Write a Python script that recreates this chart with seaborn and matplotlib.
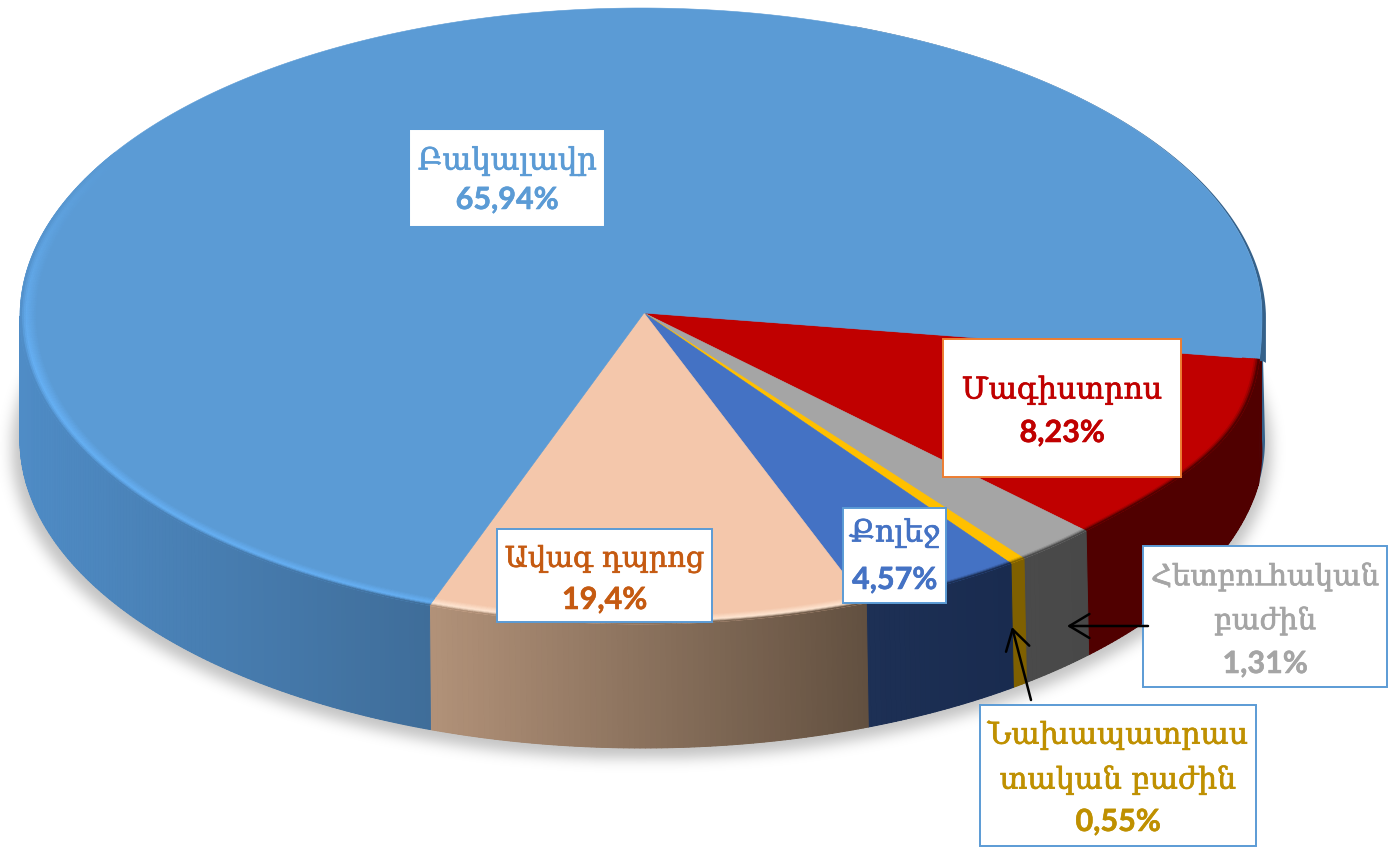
import numpy as np
import matplotlib
matplotlib.use("Agg")
import matplotlib.pyplot as plt
import matplotlib.patheffects as pe
from matplotlib.collections import PolyCollection
from matplotlib.colors import to_rgb
from matplotlib.patches import Rectangle
import seaborn as sns

# Level names and the percentages printed on the labels
label_lines = [
    ["Մագիստրոս"],
    ["Հետբուհական", "բաժին"],
    ["Նախապատրաս", "տական բաժին"],
    ["Քոլեջ"],
    ["Ավագ դպրոց"],
    ["Բակալավր"],
]
label_values = ["8,23%", "1,31%", "0,55%", "4,57%", "19,4%", "65,94%"]
drawn_shares = [10.06, 2.14, 0.42, 4.25, 11.44, 71.69]

top_colors = sns.color_palette(["#C00000", "#A5A5A5", "#FFC000", "#4472C4", "#F4C7AB", "#5B9BD5"])
highlight = ["#C00000", "#A5A5A5", "#FFC000", "#4472C4", "#FFE6D2", "#66B0F4"]
side_left = ["#500000", "#4A4A4A", "#7F6000", "#1D3055", "#B29279", "#4F8CC6"]
side_right = ["#500000", "#484848", "#7F6000", "#192B4F", "#625040", "#3F6D99"]
text_colors = ["#C00000", "#A5A5A5", "#BF9000", "#4472C4", "#C55A11", "#5B9BD5"]
edge_colors = ["#ED7D31", "#5B9BD5", "#5B9BD5", "#5B9BD5", "#5B9BD5", "#FFFFFF"]

sns.set_theme(style="white")
W, H = 1397, 851
fig = plt.figure(figsize=(W / 100, H / 100), dpi=100, facecolor="white")
ax = fig.add_axes([0, 0, 1, 1])
ax.set_xlim(0, W)
ax.set_ylim(H, 0)
ax.axis("off")

cx, cy, rx, ry = 641.0, 316.0, 621.0, 308.0
apex = (644.0, 313.0)
depth = 124.0
cxb, rxb = 642.5, 622.5
start = 8.0


def rim(theta, f=1.0):
    t = np.radians(theta)
    bump = 1.0
    wrapped = theta % 360.0
    if 0 < wrapped < 44:
        bump += 0.02 * np.sin(np.pi * wrapped / 44) ** 2
    return cx + rx * f * bump * np.cos(t), cy + ry * f * bump * np.sin(t)


def low(theta):
    t = np.radians(theta)
    return cxb + rxb * np.cos(t), cy + ry * np.sin(t) + depth


# Soft shadow
yy, xx = np.mgrid[0:H, 0:W]
mask = (((xx - 641) / 630.0) ** 2 + ((yy - 448) / 310.0) ** 2 <= 1).astype(float)
kx = np.exp(-0.5 * (np.arange(-21, 22) / 7.0) ** 2)
kx /= kx.sum()
mask = np.apply_along_axis(lambda v: np.convolve(v, kx, mode="same"), 0, mask)
mask = np.apply_along_axis(lambda v: np.convolve(v, kx, mode="same"), 1, mask)
rgba = np.zeros((H, W, 4))
rgba[..., 3] = 0.24 * mask
ax.imshow(rgba, extent=(0, W, H, 0), aspect="auto", zorder=1, interpolation="bilinear")
ax.set_xlim(0, W)
ax.set_ylim(H, 0)

# Slice boundaries from the drawn shares
edges = start + np.concatenate([[0], np.cumsum(drawn_shares)]) * 3.6


def side_color(i, x, x0, x1):
    s = np.clip((x - x0) / max(x1 - x0, 1), 0, 1)
    a, b = np.array(to_rgb(side_left[i])), np.array(to_rgb(side_right[i]))
    return a + (b - a) * s


# Right-hand crescent of the wall, tapering towards the back
ths = np.linspace(-70, start, 120)
outer = np.array([[cx + 2 + (rx + 2) * np.cos(np.radians(min(a, -1.0))),
                   cy + ry * np.sin(np.radians(a)) + 4 * (a + 70) / 78] for a in ths])
inner = np.array([rim(a) for a in ths[::-1]])
ax.fill(np.r_[outer[:, 0], inner[:, 0]], np.r_[outer[:, 1], inner[:, 1]], color="#35618A", lw=0, zorder=2)
th_r = np.linspace(0, start + 0.01, 20)
ax.fill(np.r_[[rim(a)[0] for a in th_r], [low(a)[0] for a in th_r[::-1]]],
        np.r_[[rim(a)[1] for a in th_r], [low(a)[1] for a in th_r[::-1]]], color="#35618A", lw=0, zorder=2)
# The dark red wall reaches past its corner, up to the blue wall
corner = rim(start)
th_k = np.linspace(0, start, 12)
ax.fill([corner[0], low(0)[0] - 3] + [low(a)[0] - 3 * (1 - a / start) for a in th_k],
        [corner[1] + 2, corner[1] + 2] + [low(a)[1] for a in th_k],
        color=side_left[0], lw=0, zorder=2.5)

# Walls
for i in range(len(drawn_shares)):
    a0, a1 = edges[i], min(edges[i + 1], 180.0)
    if a1 <= a0:
        continue
    ts = np.arange(a0, a1 + 0.5, 0.5)
    ts[-1] = a1
    x_a, x_b = sorted([rim(a0)[0], rim(a1)[0]])
    # solid base under the strips, so that no seams show
    base = [rim(a) for a in ts] + [low(a) for a in ts[::-1]]
    ax.fill(*zip(*base), color=side_color(i, 0.5 * (x_a + x_b), x_a, x_b), lw=0, zorder=2.8)
    polys, cols = [], []
    for p, q in zip(ts[:-1], ts[1:]):
        polys.append([rim(p), rim(q), low(q), low(p)])
        xm = 0.5 * (rim(p)[0] + rim(q)[0])
        cols.append(side_color(i, xm, x_a, x_b))
    ax.add_collection(PolyCollection(polys, facecolors=cols, edgecolors=cols, linewidths=0.7, zorder=3))

# Top faces
for i, col in enumerate(top_colors):
    ts = np.linspace(edges[i], edges[i + 1], max(int((edges[i + 1] - edges[i]) * 2), 4))
    pts = [apex] + [rim(a) for a in ts]
    ax.fill(*zip(*pts), color=col, lw=0.4, zorder=4)

# Bevel along the rim
fs = np.linspace(0.972, 1.0, 11)
for i in range(len(drawn_shares)):
    a0, a1 = edges[i], min(edges[i + 1], 212.0)
    x_a, x_b = sorted([rim(a0)[0], rim(min(a1, 180))[0]])
    ts = np.arange(a0, a1 + 0.5, 0.5)
    ts[-1] = a1
    polys, cols = [], []
    top = np.array(top_colors[i])
    hi = np.array(to_rgb(highlight[i]))
    for p, q in zip(ts[:-1], ts[1:]):
        w = np.clip((212 - p) / 42.0, 0, 1)
        xm = 0.5 * (rim(p)[0] + rim(q)[0])
        wall = side_color(i, xm, x_a, x_b)
        for k in range(len(fs) - 1):
            u = k / (len(fs) - 2)
            if u < 0.65:
                c = top + (hi - top) * (u / 0.65)
            else:
                c = hi + (wall - hi) * ((u - 0.65) / 0.35) ** 1.5
            c = top + (c - top) * w
            polys.append([rim(p, fs[k]), rim(q, fs[k]), rim(q, fs[k + 1]), rim(p, fs[k + 1])])
            cols.append(c)
    ax.add_collection(PolyCollection(polys, facecolors=cols, edgecolors=cols, linewidths=0.4, zorder=5))

# Label boxes
boxes = [(943, 339, 1181, 477), (1143, 546, 1387, 687), (980, 705, 1256, 846),
         (843, 508, 946, 603), (497, 529, 712, 622), (411, 131, 603, 225)]
line_y = [[390, 433], [577, 621, 664], [735, 780, 822], [533, 580], [559, 600], [161, 200]]
name_font = ["DejaVu Serif", "DejaVu Sans"]
sizes = [21.6, 21.0, 21.5, 22.0, 20.6, 22.0]
for i, (x0, y0, x1, y1) in enumerate(boxes):
    ax.add_patch(Rectangle((x0, y0), x1 - x0, y1 - y0, facecolor="white",
                           edgecolor=edge_colors[i], lw=1.4, zorder=8))
    xc = 0.5 * (x0 + x1)
    for line, y in zip(label_lines[i], line_y[i]):
        ax.text(xc, y, line, ha="center", va="center", color=text_colors[i],
                family=name_font, fontsize=sizes[i], zorder=9,
                path_effects=[pe.withStroke(linewidth=0.5, foreground=text_colors[i])])
    ax.text(xc, line_y[i][-1], label_values[i], ha="center", va="center", color=text_colors[i],
            family=["Lato", "DejaVu Sans"], fontweight="bold", fontsize=22, zorder=9,
            path_effects=[pe.withStroke(linewidth=0.4, foreground=text_colors[i])])

# Leader arrows
for tail, head in [((1148, 626), (1067, 626)), ((1031, 700), (1012, 627))]:
    ax.annotate("", xy=head, xytext=tail, zorder=10,
                arrowprops=dict(arrowstyle="->,head_length=1.2,head_width=0.72", color="black", lw=1.8,
                                shrinkA=0, shrinkB=0))

fig.savefig("out.png", dpi=100, facecolor="white")
